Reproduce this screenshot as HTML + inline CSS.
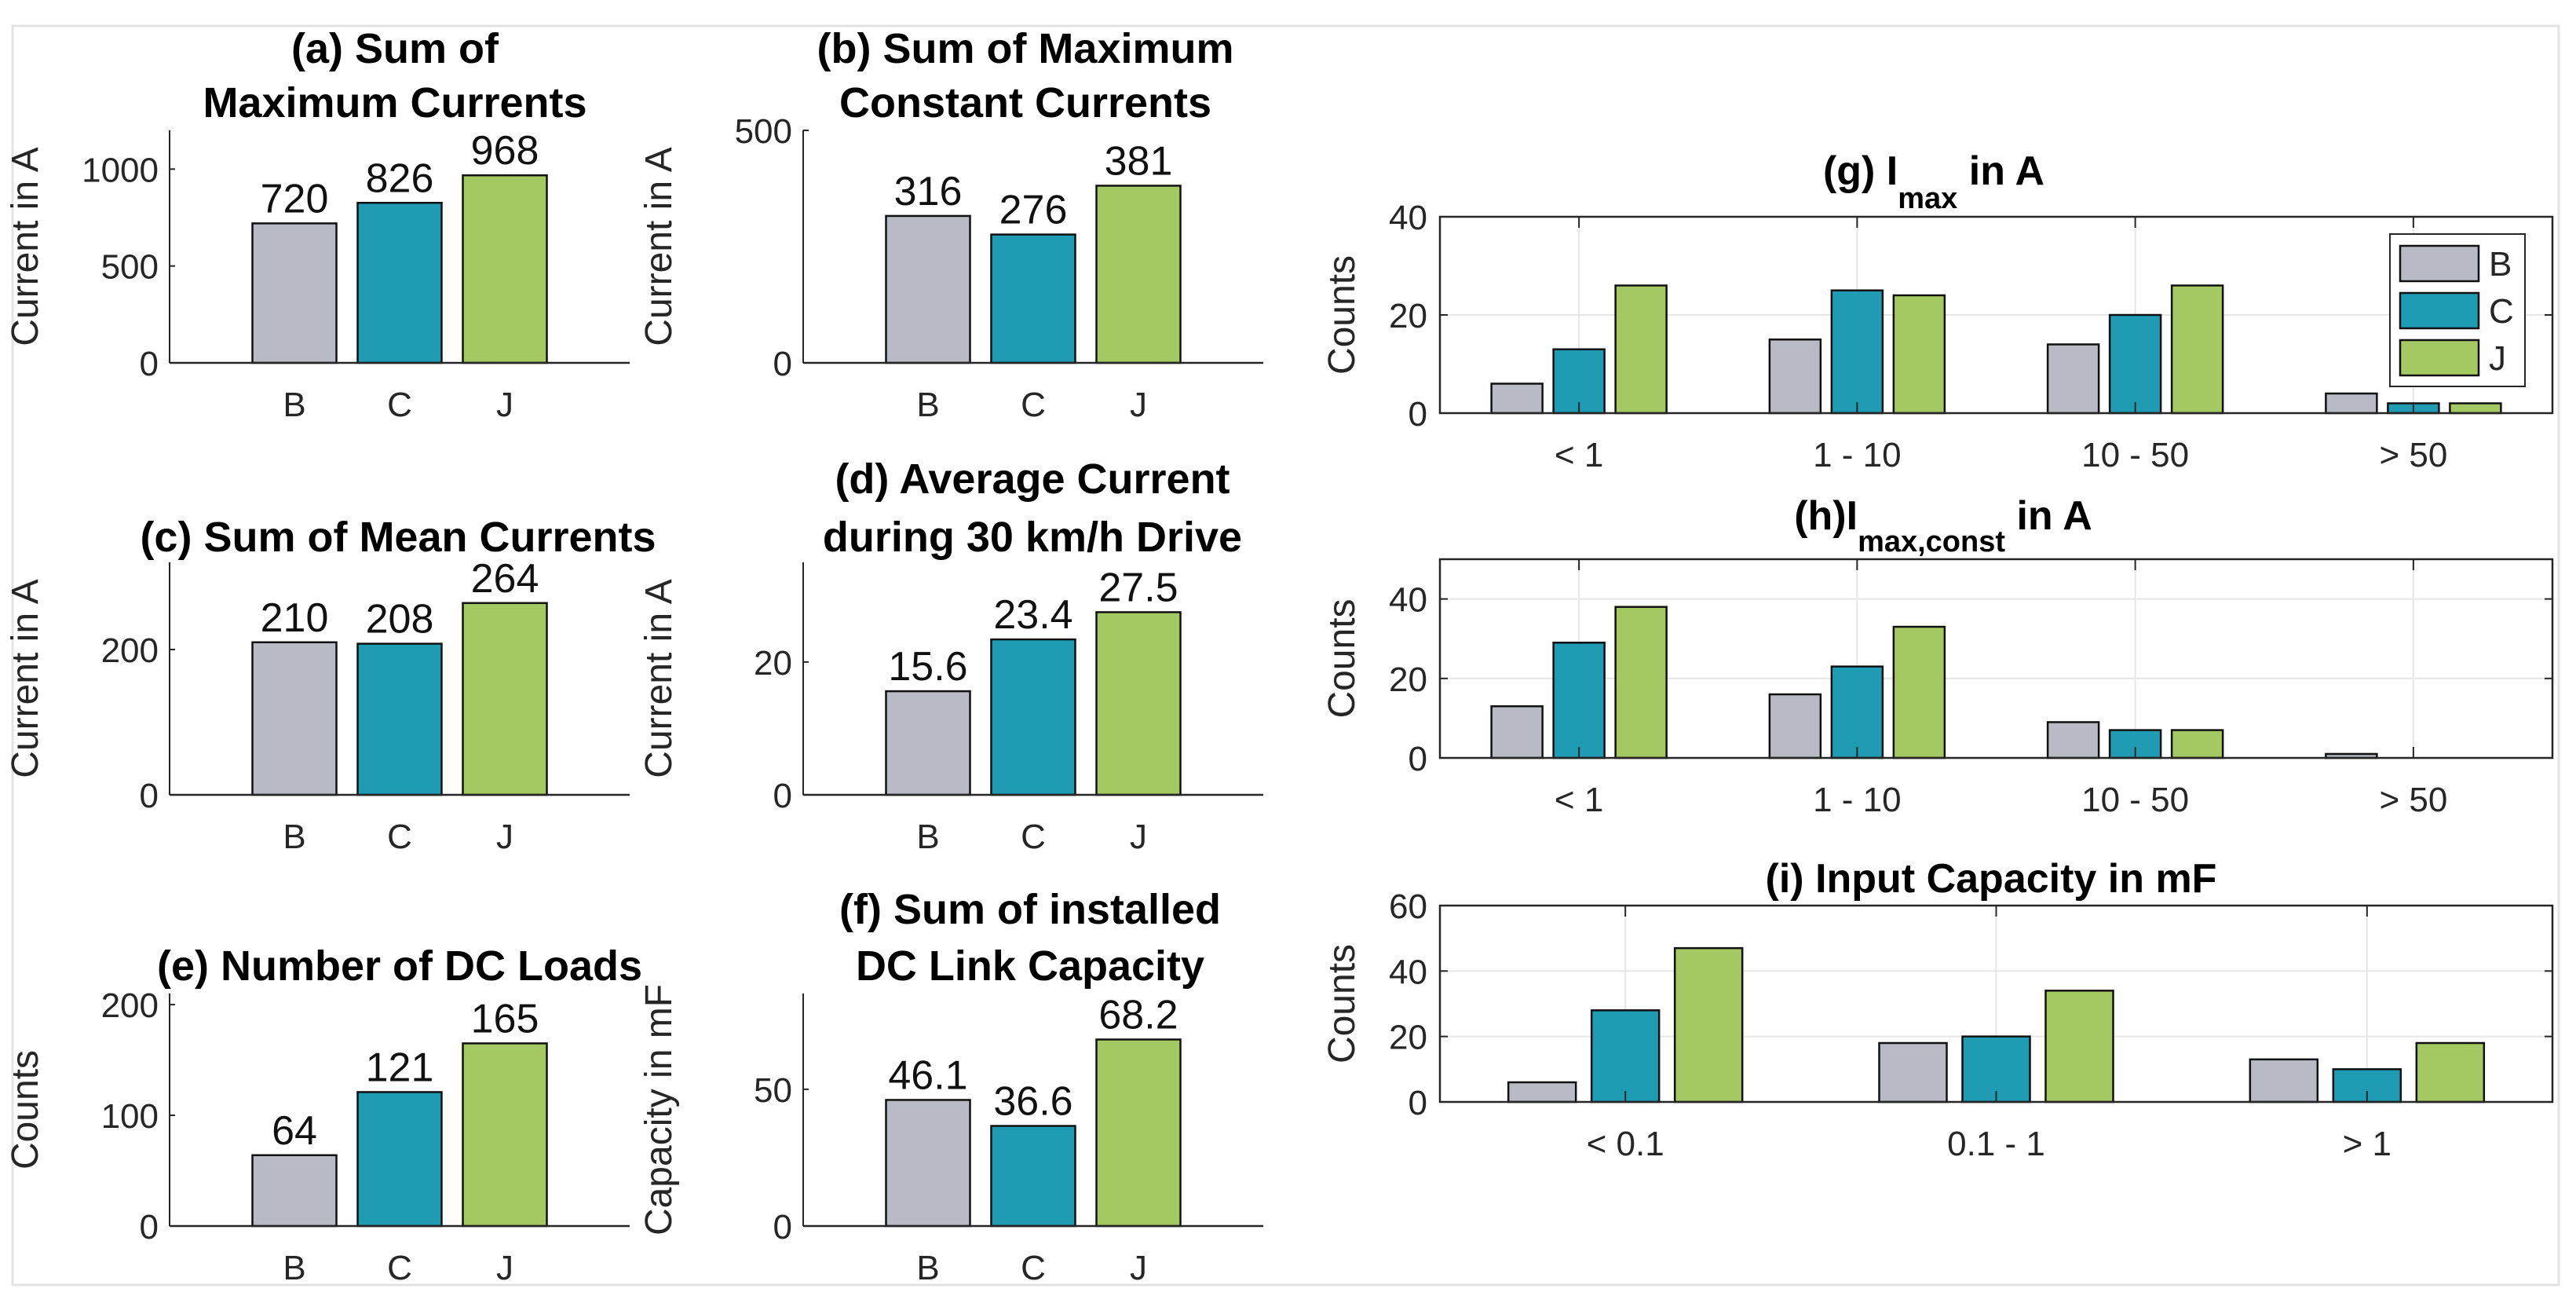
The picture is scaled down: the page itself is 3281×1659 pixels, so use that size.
<!DOCTYPE html>
<html><head><meta charset="utf-8"><style>
html,body{margin:0;padding:0;background:#fff;}
svg{display:block;font-family:"Liberation Sans",Arial,sans-serif;}
</style></head><body>
<svg id="fig" width="3281" height="1659" viewBox="0 0 3281 1659" xmlns="http://www.w3.org/2000/svg">
<rect x="16" y="33" width="3243" height="1603" fill="#fff" stroke="#e3e3e3" stroke-width="3"/>
</svg>
<script>
// ---- data ----
const groups = ["B","C","J"];
const sumMaxCurrents = [720, 826, 968];
const sumMaxConstCurrents = [316, 276, 381];
const sumMeanCurrents = [210, 208, 264];
const avgCurrent30 = [15.6, 23.4, 27.5];
const numDcLoads = [64, 121, 165];
const dcLinkCapacity = [46.1, 36.6, 68.2];
const labelsA = ["720","826","968"];
const labelsB = ["316","276","381"];
const labelsC = ["210","208","264"];
const labelsD = ["15.6","23.4","27.5"];
const labelsE = ["64","121","165"];
const labelsF = ["46.1","36.6","68.2"];
const ticksA = [0,500,1000];
const ticksB = [0,500];
const ticksC = [0,200];
const ticksD = [0,20];
const ticksE = [0,100,200];
const ticksF = [0,50];

const imaxCats = ["< 1","1 - 10","10 - 50","> 50"];
const imaxB = [6,15,14,4];
const imaxC = [13,25,20,2];
const imaxJ = [26,24,26,2];
const imaxConstB = [13,16,9,1];
const imaxConstC = [29,23,7,0];
const imaxConstJ = [38,33,7,0];
const capCats = ["< 0.1","0.1 - 1","> 1"];
const capB = [6,18,13];
const capC = [28,20,10];
const capJ = [47,34,18];
const ticksG = [0,20,40];
const ticksH = [0,20,40];
const ticksI = [0,20,40,60];

const COLORS = ["#b8bbc4","#1f9bb3","#a4c862"];
const svg = document.getElementById('fig');
const NS = "http://www.w3.org/2000/svg";
function mk(tag, attrs, parent){
  const e = document.createElementNS(NS, tag);
  for (const k in attrs) e.setAttribute(k, attrs[k]);
  (parent||svg).appendChild(e);
  return e;
}
function txt(s, x, y, size, opts, parent){
  const t = mk('text', Object.assign({x:x, y:y, 'font-size':size, fill:'#262626'}, opts||{}), parent);
  t.textContent = s;
  return t;
}

// ---- small bar panels ----
function smallPanel(cfg){
  const g = mk('g', {});
  
  
  const x0 = cfg.x0, W = 586, base = cfg.base, H = 296;
  const xs = i => x0 + W/2 + (i-1)*134;
  const ys = v => base - v/cfg.ymax*H;
  cfg.values.forEach((v,i)=>{
    const r = mk('rect', {x:xs(i)-53.5, y:ys(v), width:107, height:base-ys(v), fill:COLORS[i], stroke:'#111', 'stroke-width':2.5}, g);
    
    
    const l = txt(cfg.labels[i], xs(i), ys(v)-14, 52, {'text-anchor':'middle', fill:'#111'}, g);
    
    
    const t = txt(groups[i], xs(i), base+68, 44, {'text-anchor':'middle'}, g);
    
    
  });
  mk('line', {x1:x0, y1:base-H, x2:x0, y2:base, stroke:'#262626', 'stroke-width':2}, g);
  mk('line', {x1:x0, y1:base, x2:x0+W, y2:base, stroke:'#262626', 'stroke-width':2.5}, g);
  cfg.ticks.forEach(tv=>{
    mk('line', {x1:x0, y1:ys(tv), x2:x0+7, y2:ys(tv), stroke:'#262626', 'stroke-width':2}, g);
    const t = txt(String(tv), x0-14, ys(tv)+16, 44, {'text-anchor':'end'}, g);
    
    
  });
  const yl = txt(cfg.ylabel, 0, 0, 48, {'text-anchor':'middle', transform:`translate(${x0-168},${base-H/2+(cfg.ylShift||0)}) rotate(-90)`}, g);
  
  
  cfg.title.forEach((line, k)=>{
    const t = txt(line, x0+W/2 + (cfg.titleDx||0), cfg.titleY[k], 54, {'text-anchor':'middle', 'font-weight':'bold', fill:'#000'}, g);
    
    
  });
}
smallPanel({name:'panel-a', x0:216, base:462, ymax:1200, values:sumMaxCurrents, labels:labelsA, ticks:ticksA, ylabel:'Current in A', title:['(a) Sum of','Maximum Currents'], titleY:[80,149], titleDx:-6});
smallPanel({name:'panel-b', x0:1023, base:462, ymax:500, values:sumMaxConstCurrents, labels:labelsB, ticks:ticksB, ylabel:'Current in A', title:['(b) Sum of Maximum','Constant Currents'], titleY:[80,149], titleDx:-10});
smallPanel({name:'panel-c', x0:216, base:1012, ymax:320, values:sumMeanCurrents, labels:labelsC, ticks:ticksC, ylabel:'Current in A', title:['(c) Sum of Mean Currents'], titleY:[702], titleDx:-2});
smallPanel({name:'panel-d', x0:1023, base:1012, ymax:35, values:avgCurrent30, labels:labelsD, ticks:ticksD, ylabel:'Current in A', title:['(d) Average Current','during 30 km/h Drive'], titleY:[628,702], titleDx:-1});
smallPanel({name:'panel-e', x0:216, base:1561, ymax:210, values:numDcLoads, labels:labelsE, ticks:ticksE, ylabel:'Counts', title:['(e) Number of DC Loads'], titleY:[1248], titleDx:0});
smallPanel({name:'panel-f', x0:1023, base:1561, ymax:85, values:dcLinkCapacity, labels:labelsF, ticks:ticksF, ylabel:'Capacity in mF', title:['(f) Sum of installed','DC Link Capacity'], titleY:[1176,1248], titleDx:-4});

// ---- histogram panels ----
function histPanel(cfg){
  const g = mk('g', {});
  
  
  const x0 = 1834, W = 1417, top = cfg.top, base = cfg.base, H = base-top;
  const n = cfg.cats.length;
  const xs = i => x0 + (i+0.5)*W/n;
  const ys = v => base - v/cfg.ymax*H;
  cfg.cats.forEach((c,i)=>{
    mk('line', {x1:xs(i), y1:top, x2:xs(i), y2:base, stroke:'#e6e6e6', 'stroke-width':2}, g);
  });
  cfg.ticks.forEach(tv=>{
    if (tv>0 && tv<cfg.ymax) mk('line', {x1:x0, y1:ys(tv), x2:x0+W, y2:ys(tv), stroke:'#e6e6e6', 'stroke-width':2}, g);
  });
  const series = [cfg.b, cfg.c, cfg.j];
  series.forEach((arr, s)=>{
    arr.forEach((v,i)=>{
      if (v<=0) return;
      const cx = xs(i) + (s-1)*cfg.step;
      const r = mk('rect', {x:cx-cfg.bw/2, y:ys(v), width:cfg.bw, height:base-ys(v), fill:COLORS[s], stroke:'#111', 'stroke-width':2.5}, g);
      
      
    });
  });
  cfg.cats.forEach((c,i)=>{
    mk('line', {x1:xs(i), y1:base, x2:xs(i), y2:base-14, stroke:'#262626', 'stroke-width':2}, g);
    mk('line', {x1:xs(i), y1:top, x2:xs(i), y2:top+14, stroke:'#262626', 'stroke-width':2}, g);
    const t = txt(c, xs(i), base+68, 44, {'text-anchor':'middle'}, g);
    
    
  });
  cfg.ticks.forEach(tv=>{
    mk('line', {x1:x0, y1:ys(tv), x2:x0+10, y2:ys(tv), stroke:'#262626', 'stroke-width':2}, g);
    mk('line', {x1:x0+W, y1:ys(tv), x2:x0+W-10, y2:ys(tv), stroke:'#262626', 'stroke-width':2}, g);
    const t = txt(String(tv), x0-16, ys(tv)+16, 44, {'text-anchor':'end'}, g);
    
    
  });
  mk('rect', {x:x0, y:top, width:W, height:H, fill:'none', stroke:'#262626', 'stroke-width':2.5}, g);
  const yl = txt('Counts', 0, 0, 48, {'text-anchor':'middle', transform:`translate(${1725},${(top+base)/2}) rotate(-90)`}, g);
  
  
  const t = mk('text', {x:cfg.titleX, y:cfg.titleY, 'font-size':52, 'font-weight':'bold', fill:'#000', 'text-anchor':'middle'}, g);
  
  
  cfg.title(t);
}
function tsp(parent, s, attrs){ const e = mk('tspan', attrs||{}, parent); e.textContent = s; return e; }

histPanel({name:'panel-g', top:276, base:526, ymax:40, cats:imaxCats, b:imaxB, c:imaxC, j:imaxJ, ticks:ticksG, bw:65, step:79, titleX:2463, titleY:235,
  title:t=>{ tsp(t,'(g) I'); tsp(t,'max',{dy:30,'font-size':38}); tsp(t,' in A',{dy:-30}); }});
histPanel({name:'panel-h', top:712, base:965, ymax:50, cats:imaxCats, b:imaxConstB, c:imaxConstC, j:imaxConstJ, ticks:ticksH, bw:65, step:79, titleX:2475, titleY:674,
  title:t=>{ tsp(t,'(h)I'); tsp(t,'max,const',{dy:28,'font-size':38}); tsp(t,' in A',{dy:-28}); }});
histPanel({name:'panel-i', top:1153, base:1403, ymax:60, cats:capCats, b:capB, c:capC, j:capJ, ticks:ticksI, bw:86, step:106, titleX:2536, titleY:1136,
  title:t=>{ tsp(t,'(i)  Input Capacity in mF'); }});

// legend
const lg = mk('g', {});


mk('rect', {x:3044, y:298, width:172, height:194, fill:'#fff', stroke:'#262626', 'stroke-width':2}, lg);
groups.forEach((gname, i)=>{
  const e = mk('g', {}, lg);
  
  
  mk('rect', {x:3057, y:313+i*60, width:100, height:45, fill:COLORS[i], stroke:'#111', 'stroke-width':2.5}, e);
  txt(gname, 3170, 351+i*60, 44, {}, e);
});
</script>
</body></html>
